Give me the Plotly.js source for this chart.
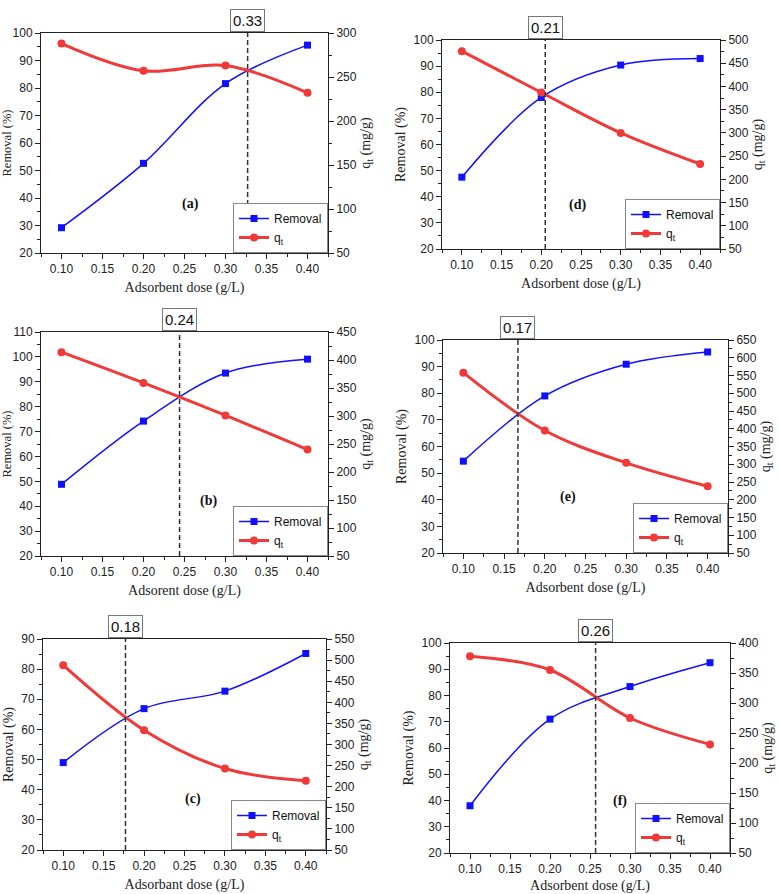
<!DOCTYPE html>
<html><head><meta charset="utf-8">
<script src="https://cdn.plot.ly/plotly-3.0.1.min.js"></script>
<style>html,body{margin:0;padding:0;background:#fff}#chart{width:779px;height:894px}</style>
</head><body><div id="chart"></div>
<script>
// ---- data ----
const dose = [0.10, 0.20, 0.30, 0.40];
const removalA = [29.2, 52.6, 81.6, 95.6];
const qtA      = [288, 257, 263, 232];
const removalB = [48.8, 74.2, 93.5, 99.1];
const qtB      = [414, 359, 301, 240];
const removalC = [49.0, 66.9, 72.7, 85.2];
const qtC      = [488, 334, 243, 214];
const removalD = [47.5, 78.0, 90.4, 92.9];
const qtD      = [476, 387, 300, 233];
const removalE = [54.5, 79.0, 90.9, 95.5];
const qtE      = [558, 395, 304, 238];
const removalF = [38.0, 71.0, 83.4, 92.5];
const qtF      = [378, 355, 275, 231];
const optimalDose   = [0.327, 0.244, 0.177, 0.205, 0.167, 0.257];
const optimalLabels = ['0.33', '0.24', '0.18', '0.21', '0.17', '0.26'];
const panelLabels   = ['(a)', '(b)', '(c)', '(d)', '(e)', '(f)'];
const panelLabelPos = [[0.257, 38], [0.279, 42], [0.261, 37], [0.245, 37], [0.229, 41], [0.287, 40]];
const xTitles = ['Adsorbent dose (g/L)', 'Adsorent dose (g/L)', 'Adsorbant dose (g/L)',
                 'Adsorbent dose (g/L)', 'Adsorbent dose (g/L)', 'Adsorbent dose (g/L)'];
const leftRanges  = [[20, 100], [20, 110], [20, 90], [20, 100], [20, 100], [20, 100]];
const rightRanges = [[50, 300], [50, 450], [50, 550], [50, 500], [50, 650], [50, 400]];
const removalSets = [removalA, removalB, removalC, removalD, removalE, removalF];
const qtSets      = [qtA, qtB, qtC, qtD, qtE, qtF];

// ---- layout geometry (pixels of the plot boxes) ----
const W = 779, H = 894;
const boxes = [
  [41, 328, 33, 253],   // a
  [41, 328, 332, 556],  // b
  [43, 326, 639, 850],  // c
  [442, 720, 40, 249],  // d
  [443, 728, 340, 553], // e
  [450, 730, 643, 853]  // f
];
const leftTitleSize = [12.5, 12.5, 14, 14, 14, 14];

const serif = 'Liberation Serif, Times New Roman, serif';
const sans = 'Liberation Sans, Arial, sans-serif';
const blue = '#1010ff', red = '#f03a3a';

const traces = [];
const layout = {
  width: W, height: H, margin: {l: 0, r: 0, t: 0, b: 0},
  paper_bgcolor: '#fff', plot_bgcolor: '#fff', showlegend: true,
  shapes: [], annotations: [], hovermode: false
};

for (let i = 0; i < 6; i++) {
  const n = i + 1;
  const xa = 'x' + (n === 1 ? '' : n);
  const yl = 'y' + (n === 1 ? '' : n);
  const yr = 'y' + (n + 6);
  const leg = 'legend' + (n === 1 ? '' : n);
  const [x0, x1, y0, y1] = boxes[i];
  const xd = [x0 / W, x1 / W];
  const yd = [1 - y1 / H, 1 - y0 / H];

  traces.push({
    x: dose, y: removalSets[i], xaxis: xa, yaxis: yl, name: 'Removal', legend: leg,
    type: 'scatter', mode: 'lines+markers',
    line: {color: blue, width: 1.5, shape: 'spline', smoothing: 1},
    marker: {symbol: 'square', size: 7, color: blue}
  });
  traces.push({
    x: dose, y: qtSets[i], xaxis: xa, yaxis: yr, name: 'q<sub>t</sub>', legend: leg,
    type: 'scatter', mode: 'lines+markers',
    line: {color: red, width: 3, shape: 'spline', smoothing: 1},
    marker: {symbol: 'circle', size: 8, color: red}
  });

  const axCommon = {
    showgrid: false, zeroline: false, showline: true, linecolor: '#222', linewidth: 1,
    ticks: 'outside', ticklen: 5, tickcolor: '#222', tickwidth: 1,
    tickfont: {family: sans, size: 12, color: '#222'}
  };
  layout['xaxis' + (n === 1 ? '' : n)] = Object.assign({}, axCommon, {
    domain: xd, anchor: yl, range: [0.075, 0.425], dtick: 0.05, tick0: 0.1,
    tickformat: '.2f', mirror: true,
    minor: {ticks: 'outside', ticklen: 3, dtick: 0.025, tickcolor: '#222'},
    title: {text: xTitles[i], font: {family: serif, size: 14, color: '#222'}, standoff: 6}
  });
  layout['yaxis' + (n === 1 ? '' : n)] = Object.assign({}, axCommon, {
    domain: yd, anchor: xa, range: leftRanges[i], dtick: 10,
    minor: {ticks: 'outside', ticklen: 3, dtick: 5, tickcolor: '#222'},
    title: {text: 'Removal (%)', font: {family: serif, size: leftTitleSize[i], color: '#222'}, standoff: 4}
  });
  layout['yaxis' + (n + 6)] = Object.assign({}, axCommon, {
    domain: yd, anchor: xa, overlaying: yl, side: 'right', range: rightRanges[i], dtick: 50,
    minor: {ticks: 'outside', ticklen: 3, dtick: 25, tickcolor: '#222'},
    title: {text: 'q<sub>t</sub> (mg/g)', font: {family: serif, size: 14, color: '#222'}, standoff: 4}
  });

  layout[leg] = {
    x: xd[1], xanchor: 'right', y: yd[0], yanchor: 'bottom', xref: 'paper', yref: 'paper',
    bgcolor: '#fff', bordercolor: '#888', borderwidth: 1,
    font: {family: sans, size: 12, color: '#111'}, tracegroupgap: 0, itemwidth: 30
  };

  layout.shapes.push({
    type: 'line', xref: xa, yref: yl + ' domain', x0: optimalDose[i], x1: optimalDose[i], y0: 0, y1: 1,
    line: {color: '#333', width: 1.5, dash: '5px,3px'}
  });
  layout.annotations.push({
    xref: xa, yref: yl + ' domain', x: optimalDose[i], y: 1, yanchor: 'bottom', yshift: 1,
    text: optimalLabels[i], showarrow: false,
    font: {family: sans, size: 15, color: '#111'},
    bordercolor: '#777', borderwidth: 1, borderpad: 2, bgcolor: '#fff'
  });
  layout.annotations.push({
    xref: xa, yref: yl, x: panelLabelPos[i][0], y: panelLabelPos[i][1],
    text: '<b>' + panelLabels[i] + '</b>', showarrow: false,
    font: {family: serif, size: 14, color: '#111'}
  });
}

Plotly.newPlot('chart', traces, layout, {displayModeBar: false, staticPlot: true});
</script></body></html>
